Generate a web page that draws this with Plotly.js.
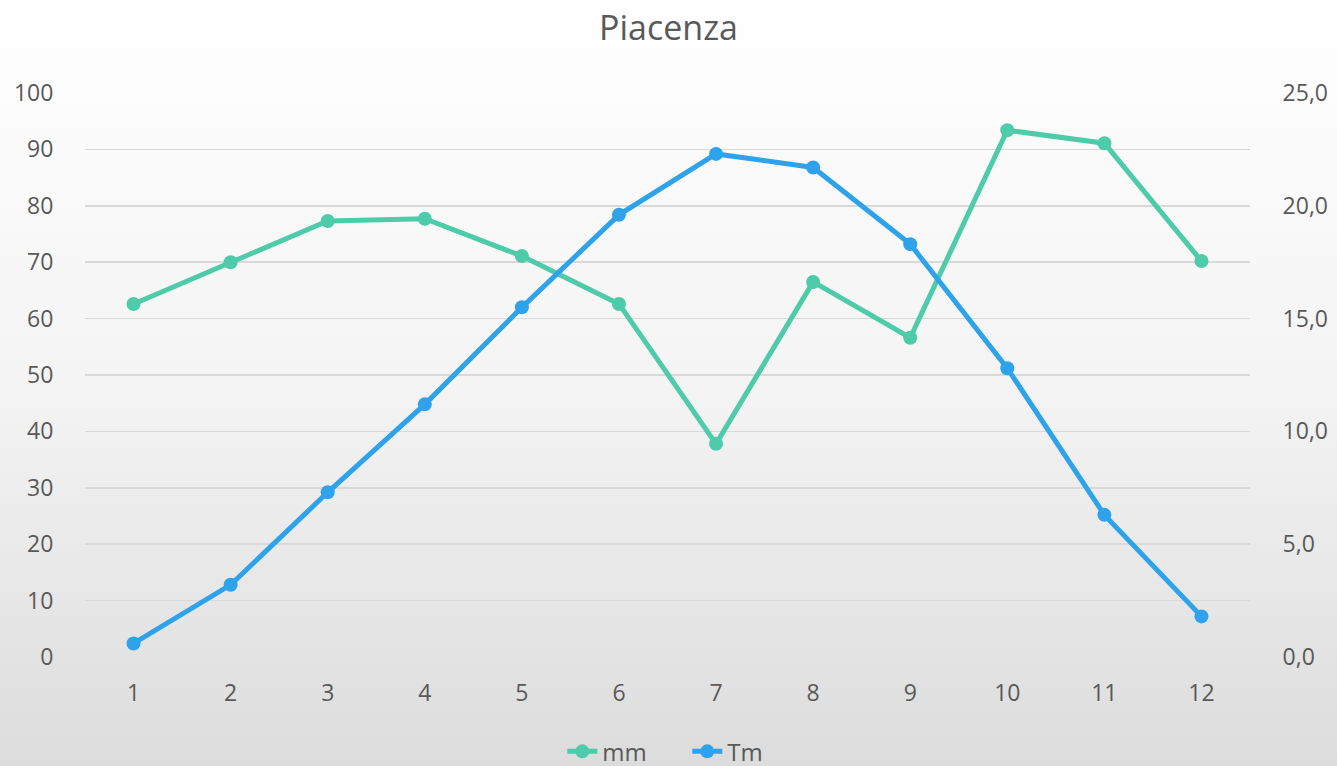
<!DOCTYPE html>
<html>
<head>
<meta charset="utf-8">
<script src="https://cdn.plot.ly/plotly-3.0.1.min.js"></script>
<style>
html, body { margin:0; padding:0; width:1337px; height:766px; overflow:hidden;
  background: linear-gradient(to bottom, #ffffff 0%, #f4f4f4 50%, #dcdcdc 100%); }
#chart { width:1337px; height:800px; }
</style>
</head>
<body>
<div id="chart"></div>
<script>
const months = [1,2,3,4,5,6,7,8,9,10,11,12];
const mm = [62.6, 70.0, 77.3, 77.7, 71.1, 62.6, 37.8, 66.5, 56.6, 93.4, 91.1, 70.2];
const tm = [0.6, 3.2, 7.3, 11.2, 15.5, 19.6, 22.3, 21.7, 18.3, 12.8, 6.3, 1.8];
const leftTicks = [0,10,20,30,40,50,60,70,80,90,100];
const rightTicks = [0,5,10,15,20,25];

const fontFam = '"Open Sans", "DejaVu Sans", sans-serif';
const traces = [
  {x: months, y: mm, name: 'mm', type: 'scatter', mode: 'lines+markers',
   line: {color: '#4ecba9', width: 5}, marker: {color: '#4ecba9', size: 14}, yaxis: 'y'},
  {x: months, y: tm, name: 'Tm', type: 'scatter', mode: 'lines+markers',
   line: {color: '#2ea3ec', width: 5}, marker: {color: '#2ea3ec', size: 14}, yaxis: 'y2'}
];
const layout = {
  width: 1337, height: 800,
  paper_bgcolor: 'rgba(0,0,0,0)', plot_bgcolor: 'rgba(0,0,0,0)',
  separators: ',.',
  margin: {l: 85, r: 87, t: 93, b: 143},
  title: {text: 'Piacenza', x: 0.5, xanchor: 'center', y: 1 - 28/800, yanchor: 'middle',
    font: {family: fontFam, size: 34, color: '#595959'}},
  font: {family: fontFam, color: '#595959'},
  xaxis: {range: [0.5, 12.5], tickvals: months, ticktext: months.map(String),
    showgrid: false, zeroline: false, showline: false, automargin: false,
    ticks: 'outside', ticklen: 15, tickcolor: 'rgba(0,0,0,0)',
    tickfont: {size: 23, color: '#595959'}},
  yaxis: {range: [0, 100], tickvals: leftTicks, showgrid: true, gridcolor: '#d9d9d9', gridwidth: 1.5,
    zeroline: false, showline: false, automargin: false, ticks: 'outside', ticklen: 26, tickcolor: 'rgba(0,0,0,0)',
    tickfont: {size: 23, color: '#595959'}},
  yaxis2: {range: [0, 25], tickvals: rightTicks, tickformat: '.1f', overlaying: 'y', side: 'right',
    showgrid: false, zeroline: false, showline: false, automargin: false, ticks: 'outside', ticklen: 27, tickcolor: 'rgba(0,0,0,0)',
    tickfont: {size: 23, color: '#595959'}},
  legend: {orientation: 'h', x: 0.517, xanchor: 'center', y: -0.168, yanchor: 'middle',
    font: {size: 24, color: '#595959'}, bgcolor: 'rgba(0,0,0,0)',
    entrywidth: 80, entrywidthmode: 'pixels'},
  showlegend: true
};
Plotly.newPlot('chart', traces, layout, {displayModeBar: false, staticPlot: true});
</script>
</body>
</html>
